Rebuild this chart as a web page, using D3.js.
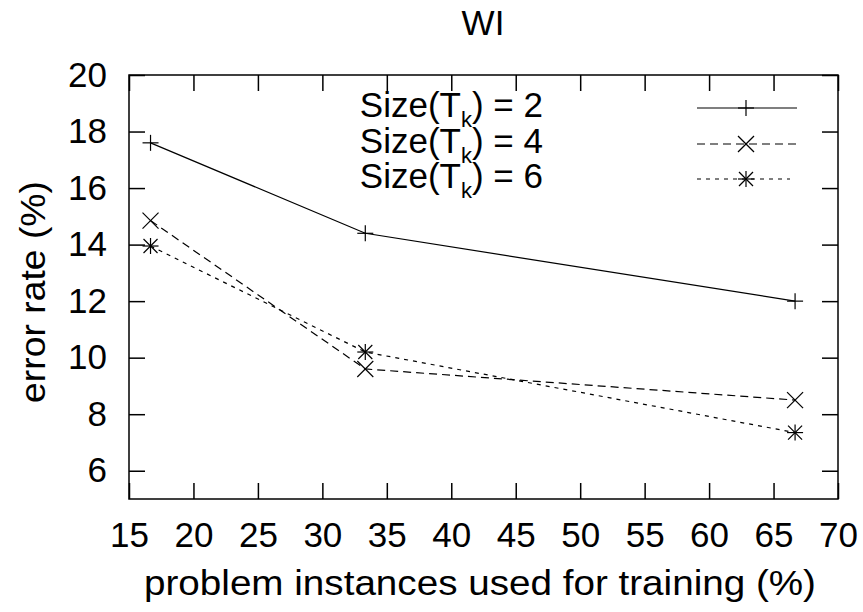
<!DOCTYPE html>
<html>
<head>
<meta charset="utf-8">
<script src="https://cdn.jsdelivr.net/npm/d3@7"></script>
<style>
  body { margin: 0; background: #fff; }
  text { font-family: "Liberation Sans", Arial, Helvetica, sans-serif; fill: #000; }
</style>
</head>
<body>
<script>
// data
var trainPct = [16.67, 33.33, 66.67];
var size2 = [17.6, 14.4, 12.0];
var size4 = [14.85, 9.6, 8.5];
var size6 = [13.95, 10.2, 7.35];
var seriesNames = ["2", "4", "6"];
var xTicks = [15, 20, 25, 30, 35, 40, 45, 50, 55, 60, 65, 70];
var yTicks = [6, 8, 10, 12, 14, 16, 18, 20];

var svgWidth = 863;
var svgHeight = 612;
var margin = { top: 75, right: 25, bottom: 113, left: 129 };
var width = svgWidth - margin.left - margin.right;
var height = svgHeight - margin.top - margin.bottom;

var svg = d3.select("body")
  .append("svg")
  .attr("width", svgWidth)
  .attr("height", svgHeight);

var chartGroup = svg.append("g")
  .attr("transform", `translate(${margin.left}, ${margin.top})`);

var xScale = d3.scaleLinear().domain([15, 70]).range([0, width]);
var yScale = d3.scaleLinear().domain([5, 20]).range([height, 0]);

var fontSize = 35;
var tickLen = 16;

// axes, ticks pointing inward
function styleAxis(g) {
  g.select(".domain").remove();
  g.selectAll("line").attr("stroke", "#000").attr("stroke-width", 1.5);
  g.selectAll("text").style("font-size", fontSize + "px").attr("font-family", null);
}

chartGroup.append("g")
  .attr("transform", `translate(0, ${height})`)
  .call(d3.axisBottom(xScale).tickValues(xTicks).tickSize(-tickLen).tickPadding(23))
  .call(styleAxis);

chartGroup.append("g")
  .call(d3.axisTop(xScale).tickValues(xTicks).tickSize(-tickLen).tickFormat(""))
  .call(styleAxis);

chartGroup.append("g")
  .call(d3.axisLeft(yScale).tickValues(yTicks).tickSize(-tickLen).tickPadding(22))
  .call(styleAxis);

chartGroup.append("g")
  .attr("transform", `translate(${width}, 0)`)
  .call(d3.axisRight(yScale).tickValues(yTicks).tickSize(-tickLen).tickFormat(""))
  .call(styleAxis);

// frame
chartGroup.append("rect")
  .attr("width", width)
  .attr("height", height)
  .attr("fill", "none")
  .attr("stroke", "#000")
  .attr("stroke-width", 1.5);

// marker shapes
function drawMarker(g, kind, cx, cy) {
  var r = 8;
  var p = [];
  if (kind === "plus" || kind === "star") {
    p.push([[cx - r, cy], [cx + r, cy]]);
    p.push([[cx, cy - r], [cx, cy + r]]);
  }
  if (kind === "cross" || kind === "star") {
    var d = kind === "star" ? 7 : 8;
    p.push([[cx - d, cy - d], [cx + d, cy + d]]);
    p.push([[cx - d, cy + d], [cx + d, cy - d]]);
  }
  p.forEach(function(seg) {
    g.append("line")
      .attr("x1", seg[0][0]).attr("y1", seg[0][1])
      .attr("x2", seg[1][0]).attr("y2", seg[1][1])
      .attr("stroke", "#000")
      .attr("stroke-width", 1.2);
  });
}

var series = [
  { name: seriesNames[0], values: size2, dash: null, marker: "plus" },
  { name: seriesNames[1], values: size4, dash: "8,5", marker: "cross" },
  { name: seriesNames[2], values: size6, dash: "4,5", marker: "star" }
];

var line = d3.line()
  .x(function(d, i) { return xScale(trainPct[i]); })
  .y(function(d) { return yScale(d); });

series.forEach(function(s) {
  chartGroup.append("path")
    .datum(s.values)
    .attr("d", line)
    .attr("fill", "none")
    .attr("stroke", "#000")
    .attr("stroke-width", 1.2)
    .attr("stroke-dasharray", s.dash);
  s.values.forEach(function(v, i) {
    drawMarker(chartGroup, s.marker, xScale(trainPct[i]), yScale(v));
  });
});

// legend
var legendRowY = [108, 144, 179];
series.forEach(function(s, i) {
  var y = legendRowY[i];
  var t = svg.append("text")
    .attr("x", 543)
    .attr("y", y + 9)
    .attr("text-anchor", "end")
    .style("font-size", fontSize + "px");
  t.append("tspan").text("Size(T");
  t.append("tspan").attr("dy", 10).style("font-size", "22px").text("k");
  t.append("tspan").attr("dy", -10).text(") = " + s.name);

  var x2 = i === 2 ? 790 : 797;
  svg.append("line")
    .attr("x1", 697).attr("y1", y)
    .attr("x2", x2).attr("y2", y)
    .attr("stroke", "#000")
    .attr("stroke-width", 1.2)
    .attr("stroke-dasharray", s.dash);
  drawMarker(svg, s.marker, 746, y);
});

// title and axis labels
svg.append("text")
  .attr("x", 483)
  .attr("y", 35)
  .attr("text-anchor", "middle")
  .style("font-size", fontSize + "px")
  .text("WI");

svg.append("text")
  .attr("transform", `translate(45, 292) rotate(-90)`)
  .attr("text-anchor", "middle")
  .attr("textLength", 222)
  .attr("lengthAdjust", "spacingAndGlyphs")
  .style("font-size", fontSize + "px")
  .text("error rate (%)");

svg.append("text")
  .attr("x", 480)
  .attr("y", 595)
  .attr("text-anchor", "middle")
  .attr("textLength", 672)
  .attr("lengthAdjust", "spacingAndGlyphs")
  .style("font-size", fontSize + "px")
  .text("problem instances used for training (%)");
</script>
</body>
</html>
